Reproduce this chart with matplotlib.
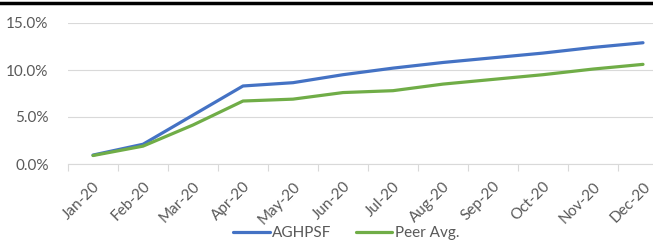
import matplotlib
matplotlib.use("Agg")
import matplotlib.pyplot as plt
from matplotlib.lines import Line2D
from matplotlib.ticker import PercentFormatter

plt.rcParams['font.family'] = ['Lato', 'DejaVu Sans']

# data (cumulative return, %)
months = ['Jan-20', 'Feb-20', 'Mar-20', 'Apr-20', 'May-20', 'Jun-20',
          'Jul-20', 'Aug-20', 'Sep-20', 'Oct-20', 'Nov-20', 'Dec-20']
aghpsf = [0.95, 2.1, 5.2, 8.3, 8.65, 9.5, 10.2, 10.8, 11.3, 11.8, 12.4, 12.9]
peer_avg = [0.9, 1.9, 4.15, 6.7, 6.9, 7.6, 7.8, 8.5, 9.0, 9.5, 10.1, 10.6]

fig = plt.figure(figsize=(6.53, 2.41), dpi=100)
ax = fig.add_axes([68 / 653, 1 - 164 / 241, 600 / 653, 141 / 241])

x = list(range(len(months)))
ax.plot(x, aghpsf, color='#4472C4', lw=2.3, solid_capstyle='round', label='AGHPSF')
ax.plot(x, peer_avg, color='#70AD47', lw=2.3, solid_capstyle='round', label='Peer Avg.')

ax.set_xlim(-0.5, 11.5)
ax.set_ylim(0, 15)
ax.set_yticks([0, 5, 10, 15])
ax.yaxis.set_major_formatter(PercentFormatter(decimals=1))
ax.grid(axis='y', color='#D9D9D9', lw=0.8)
ax.set_axisbelow(True)

ax.set_xticks([i - 0.5 for i in x], minor=False)
ax.set_xticklabels([])
ax.set_xticks(x, minor=True)
ax.set_xticklabels(months, minor=True, rotation=45, ha='right', va='top',
                   rotation_mode='anchor', fontsize=11, color='#595959')
ax.tick_params(axis='x', which='major', length=5, color='#D9D9D9', width=0.8)
ax.tick_params(axis='x', which='minor', length=0, pad=11)
ax.tick_params(axis='y', length=0, labelsize=11, labelcolor='#595959', pad=14)

for s in ['top', 'right', 'left']:
    ax.spines[s].set_visible(False)
ax.spines['bottom'].set_color('#D9D9D9')
ax.spines['bottom'].set_linewidth(0.8)

fig.legend(loc='center', bbox_to_anchor=(346 / 653, 1 - 233 / 241), ncol=2,
           frameon=False, fontsize=11, handlelength=2.4, columnspacing=1.6,
           handletextpad=0.15, labelcolor='#595959')

# black rule at the top of the picture
fig.add_artist(Line2D([0, 1], [1 - 2.5 / 241, 1 - 2.5 / 241], color='black', lw=2.5,
                      transform=fig.transFigure))

fig.savefig('out.png', dpi=100)
